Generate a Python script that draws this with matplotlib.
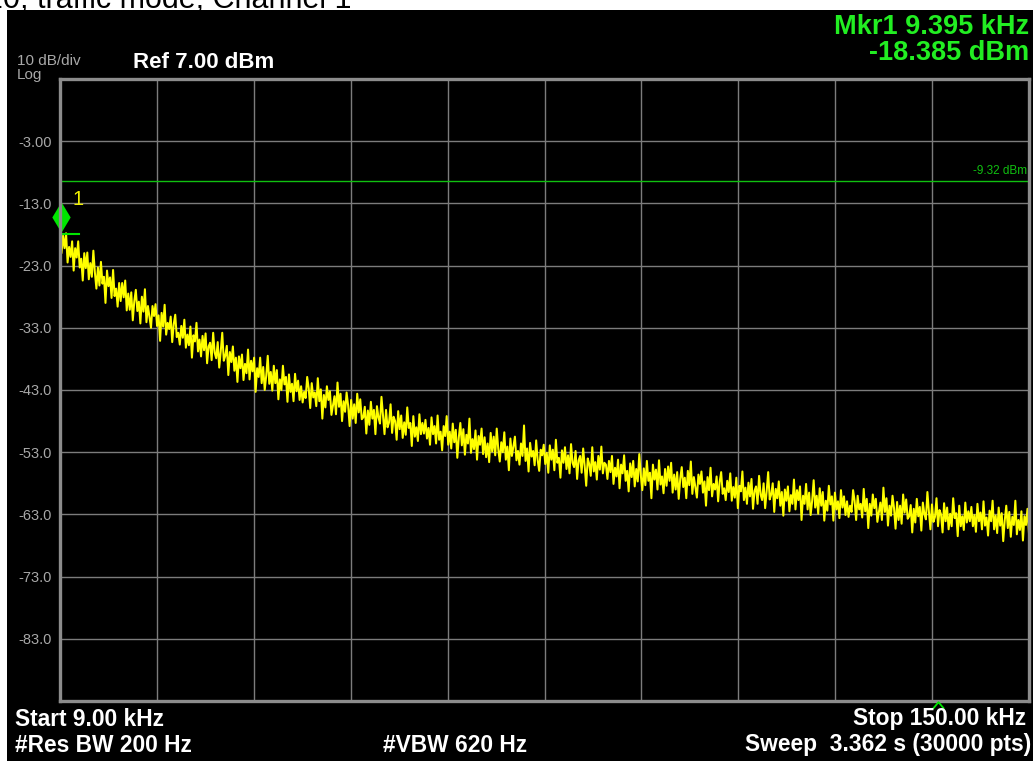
import numpy as np
import matplotlib
matplotlib.use("Agg")
import matplotlib.pyplot as plt
from matplotlib.patches import Rectangle
from matplotlib.path import Path
from matplotlib.transforms import offset_copy

plt.rcParams['font.family'] = ['Liberation Sans', 'DejaVu Sans']

# ---------------- data ----------------
start_khz = 9.0
stop_khz = 150.0
ref_dbm = 7.0
db_per_div = 10.0
n_div = 10
threshold_dbm = -9.32
mkr_khz = 9.395
mkr_dbm = -18.385

ytick_labels = ["-3.00", "-13.0", "-23.0", "-33.0", "-43.0",
                "-53.0", "-63.0", "-73.0", "-83.0"]

# trace readings (dBm), 16 consecutive stretches of equal width from start to stop
seg01 = [-18.5, -21.0, -18.2, -20.2, -17.8, -22.5, -20.0, -21.6, -19.1, -23.8,
         -20.2, -21.7, -19.1, -23.3, -21.9, -25.4, -21.0, -23.4, -20.9, -25.2,
         -22.6, -24.8, -20.6, -24.1, -26.7, -23.3, -26.2, -22.4, -25.9, -24.8,
         -29.0, -23.8, -26.3, -24.9, -28.2, -23.7, -27.9, -26.7, -29.6, -25.8]
seg02 = [-28.7, -25.8, -28.1, -25.4, -30.2, -27.5, -30.1, -27.3, -31.8, -28.7,
         -26.9, -30.3, -28.8, -32.3, -28.0, -30.4, -26.8, -32.1, -29.5, -31.2,
         -33.0, -29.5, -31.1, -29.2, -32.7, -31.0, -35.1, -30.6, -32.8, -29.3,
         -34.1, -32.2, -33.2, -31.2, -35.3, -32.4, -30.9, -34.5, -33.8, -35.7]
seg03 = [-32.7, -34.6, -31.7, -36.2, -34.1, -35.8, -32.8, -37.8, -34.2, -35.2,
         -32.2, -36.8, -34.9, -37.6, -34.3, -36.6, -33.9, -38.7, -36.0, -35.4,
         -38.2, -33.8, -37.0, -37.9, -35.3, -39.4, -36.8, -33.8, -38.3, -37.5,
         -35.9, -40.6, -36.9, -38.5, -36.0, -39.9, -37.8, -41.7, -37.6, -39.5]
seg04 = [-37.3, -41.4, -38.8, -40.3, -36.5, -41.3, -38.3, -40.0, -37.8, -43.3,
         -39.5, -40.9, -37.8, -41.9, -39.3, -43.0, -40.7, -37.5, -42.0, -40.1,
         -43.1, -39.1, -41.9, -39.8, -44.5, -41.3, -43.0, -39.1, -42.1, -40.9,
         -44.9, -40.5, -43.3, -42.0, -44.8, -40.4, -43.2, -41.5, -44.6, -42.4]
seg05 = [-45.0, -43.3, -44.3, -40.9, -42.7, -45.9, -41.9, -44.2, -43.4, -45.6,
         -41.1, -44.8, -42.9, -47.6, -43.8, -45.8, -42.4, -44.6, -43.2, -47.0,
         -45.5, -44.0, -46.9, -41.8, -45.7, -43.6, -48.0, -44.8, -46.5, -43.4,
         -45.5, -48.8, -44.6, -47.6, -45.3, -48.3, -43.6, -46.6, -44.5, -47.7]
seg06 = [-47.4, -45.7, -50.0, -46.3, -48.6, -44.9, -47.6, -46.2, -50.1, -45.6,
         -47.4, -48.4, -44.1, -47.2, -50.1, -46.2, -49.0, -48.2, -45.3, -49.9,
         -47.3, -48.0, -51.0, -46.4, -49.3, -47.1, -50.7, -48.2, -50.2, -45.8,
         -49.1, -48.3, -52.0, -47.2, -50.5, -49.0, -51.2, -46.9, -50.1, -48.3]
seg07 = [-50.0, -47.8, -50.8, -49.1, -51.8, -47.4, -50.1, -48.8, -51.6, -47.1,
         -51.0, -49.7, -52.7, -48.8, -50.4, -47.2, -51.8, -49.7, -52.4, -48.4,
         -51.4, -49.4, -53.9, -50.6, -48.3, -51.9, -49.3, -53.4, -50.2, -51.6,
         -47.6, -53.1, -50.9, -52.5, -49.5, -54.2, -50.4, -51.8, -49.2, -53.3]
seg08 = [-50.6, -53.8, -51.6, -54.6, -49.9, -52.9, -50.5, -53.5, -49.2, -52.5,
         -54.5, -51.4, -53.0, -49.8, -54.2, -52.1, -55.9, -50.8, -53.6, -52.1,
         -50.5, -54.3, -52.8, -55.0, -51.6, -53.6, -48.7, -54.4, -52.4, -56.1,
         -51.5, -53.7, -52.8, -55.1, -51.1, -54.3, -56.0, -52.6, -53.5, -51.8]
seg09 = [-54.9, -53.1, -56.3, -51.9, -54.2, -52.6, -55.9, -51.0, -54.7, -53.9,
         -57.1, -52.7, -54.7, -52.2, -55.7, -53.5, -56.4, -51.7, -54.7, -55.4,
         -52.8, -57.3, -54.3, -53.6, -56.3, -52.4, -55.2, -58.4, -54.0, -54.9,
         -56.8, -52.2, -56.1, -54.6, -57.4, -53.6, -55.8, -52.1, -56.4, -54.7]
seg10 = [-55.0, -57.3, -54.4, -56.2, -53.6, -58.1, -55.5, -56.9, -54.2, -58.8,
         -55.0, -56.4, -53.5, -57.6, -56.0, -59.3, -54.8, -57.0, -54.4, -58.5,
         -55.7, -57.7, -53.3, -56.7, -59.1, -55.6, -58.3, -54.4, -57.6, -56.3,
         -60.4, -55.0, -57.4, -55.8, -59.0, -54.3, -58.2, -56.9, -59.6, -55.7]
seg11 = [-58.4, -55.3, -57.6, -54.7, -59.5, -56.6, -59.0, -56.2, -60.5, -57.3,
         -55.4, -58.6, -57.1, -60.4, -56.0, -58.3, -54.5, -59.7, -57.0, -58.6,
         -60.3, -56.6, -58.1, -56.1, -59.5, -57.7, -61.6, -57.0, -59.1, -55.5,
         -60.1, -58.1, -59.0, -56.9, -60.9, -57.8, -56.2, -59.7, -58.8, -60.7]
seg12 = [-57.6, -59.4, -56.4, -60.8, -58.6, -60.3, -57.1, -62.0, -58.4, -59.3,
         -56.1, -60.7, -58.7, -61.3, -57.9, -60.1, -57.3, -62.1, -59.2, -58.5,
         -61.3, -56.8, -59.8, -60.7, -58.0, -62.0, -59.3, -56.2, -60.6, -59.8,
         -58.0, -62.6, -58.9, -60.4, -57.7, -61.6, -59.4, -63.2, -59.0, -60.8]
seg13 = [-58.5, -62.5, -59.9, -61.3, -57.4, -62.2, -59.1, -60.7, -58.5, -63.9,
         -60.0, -61.3, -58.1, -62.2, -59.5, -63.1, -60.8, -57.5, -61.9, -60.0,
         -62.9, -58.8, -61.6, -59.4, -64.0, -60.8, -62.4, -58.4, -61.4, -60.1,
         -64.0, -59.5, -62.2, -60.9, -63.6, -59.1, -61.9, -60.1, -63.1, -60.9]
seg14 = [-63.4, -61.6, -62.6, -59.1, -60.8, -63.9, -60.0, -62.2, -61.3, -63.5,
         -58.9, -62.5, -60.5, -65.2, -61.3, -63.2, -59.8, -62.0, -60.5, -64.2,
         -62.7, -61.1, -63.9, -58.7, -62.6, -60.4, -64.8, -61.6, -63.2, -60.0,
         -62.0, -65.3, -61.0, -63.9, -61.6, -64.5, -59.8, -62.7, -60.6, -63.7]
seg15 = [-63.3, -61.5, -65.9, -62.1, -64.3, -60.5, -63.3, -61.8, -65.6, -61.1,
         -62.9, -63.8, -59.4, -62.6, -65.4, -61.4, -64.2, -63.4, -60.4, -64.9,
         -62.3, -63.0, -65.9, -61.2, -64.1, -61.9, -65.4, -62.9, -64.9, -60.4,
         -63.6, -62.8, -66.5, -61.6, -64.9, -63.3, -65.5, -61.1, -64.3, -62.5]
seg16 = [-64.1, -61.8, -64.9, -63.1, -65.8, -61.3, -64.1, -62.7, -65.4, -60.9,
         -64.8, -63.5, -66.4, -62.4, -64.1, -60.8, -65.4, -63.2, -66.0, -61.9,
         -64.8, -62.8, -67.3, -64.0, -61.6, -65.2, -62.6, -66.6, -63.4, -64.7,
         -60.8, -66.2, -63.9, -65.5, -62.5, -67.2, -63.3, -64.7, -62.1, -66.1]

trace_dbm = (seg01 + seg02 + seg03 + seg04 + seg05 + seg06 + seg07 + seg08 +
             seg09 + seg10 + seg11 + seg12 + seg13 + seg14 + seg15 + seg16)

# ---------------- figure ----------------
W, H = 1035, 761
fig = plt.figure(figsize=(W / 100, H / 100), dpi=100, facecolor='white')

def fx(px):
    return px / W

def fy(py):
    return 1 - py / H

# clipped title text at top
fig.text(fx(351), fy(7.5), "20, traffic mode, Channel 1", ha='right', va='baseline',
         fontsize=22, color='black', zorder=0)

# black instrument screen
fig.patches.append(Rectangle((fx(7), 0), fx(1033) - fx(7), fy(9.5), transform=fig.transFigure,
                             facecolor='black', edgecolor='none', zorder=1))

ax = fig.add_axes([fx(60), fy(701), fx(1029) - fx(60), fy(79) - fy(701)])
ax.set_facecolor('black')
ax.set_zorder(2)

bottom_dbm = ref_dbm - db_per_div * n_div
ax.set_xlim(start_khz, stop_khz)
ax.set_ylim(bottom_dbm, ref_dbm)

grid_color = '#7c7c7c'
ax.set_xticks(np.linspace(start_khz, stop_khz, n_div + 1)[1:-1])
ax.set_xticklabels([])
ax.set_yticks(ref_dbm - db_per_div * np.arange(1, n_div))
ax.set_yticklabels(ytick_labels)
ax.tick_params(axis='both', length=0)
ax.tick_params(axis='y', pad=6, labelsize=10.5, labelcolor='#a8a8a8')
ax.grid(True, color=grid_color, linewidth=1.0)
ax.set_axisbelow(True)
for sp in ax.spines.values():
    sp.set_color('#8c8c8c')
    sp.set_linewidth(2.4)
    sp.set_zorder(5)

# threshold display line
ax.axhline(threshold_dbm, color='#10c010', linewidth=1.0, zorder=3)
ax.text(0.998, threshold_dbm + 0.6, f"{threshold_dbm:.2f} dBm", transform=ax.get_yaxis_transform(),
        ha='right', va='bottom', fontsize=8.5, color='#10c010', zorder=4)

# trace
yellow = '#ffff00'
freqs = np.linspace(start_khz, stop_khz, len(trace_dbm))
ax.plot(freqs, trace_dbm, color=yellow, linewidth=1.45, zorder=3)

# marker 1
diamond = Path([(0, 1), (0.6, 0), (0, -1), (-0.6, 0), (0, 1)],
               [Path.MOVETO, Path.LINETO, Path.LINETO, Path.LINETO, Path.CLOSEPOLY])
mk_tr = offset_copy(ax.transData, fig=fig, x=-1.5, y=14.5, units='points')
ax.plot([mkr_khz], [mkr_dbm], marker=diamond, markersize=22, color='#00e600',
        markeredgewidth=0, linestyle='none', transform=mk_tr, clip_on=False, zorder=4)
span = stop_khz - start_khz
ax.plot([mkr_khz, mkr_khz + span * 0.017], [mkr_dbm + 0.4, mkr_dbm + 0.4], color='#00e600',
        linewidth=1.5, zorder=4)
ax.annotate("1", xy=(mkr_khz, mkr_dbm), xytext=(7, 20), textcoords='offset points',
            ha='left', va='bottom', fontsize=14.5, color='#f0f000', zorder=4)

# small green caret under the bottom border
caret = Path([(-1, -0.6), (0, 0.6), (1, -0.6)], [Path.MOVETO, Path.LINETO, Path.LINETO])
ax.plot([0.906], [-0.006], marker=caret, markersize=8, markerfacecolor='none',
        markeredgecolor='#00e600', markeredgewidth=1.3, linestyle='none',
        transform=ax.transAxes, clip_on=False, zorder=6)

# screen annotations
gray = '#a8a8a8'
fig.text(fx(17), fy(61), "10 dB/div", ha='left', va='center', fontsize=11, color=gray, zorder=3)
fig.text(fx(17), fy(75), "Log", ha='left', va='center', fontsize=11, color=gray, zorder=3)
fig.text(fx(133), fy(63), "Ref 7.00 dBm", ha='left', va='center', fontsize=16,
         fontweight='bold', color='white', zorder=3)

green = '#22ee22'
fig.text(fx(1029), fy(27), f"Mkr1 {mkr_khz:.3f} kHz", ha='right', va='center', fontsize=19.5,
         fontweight='bold', color=green, zorder=3)
fig.text(fx(1029), fy(53.5), f"{mkr_dbm:.3f} dBm", ha='right', va='center', fontsize=19.5,
         fontweight='bold', color=green, zorder=3)

fs = 16.4
fig.text(fx(15), fy(719), "Start 9.00 kHz", ha='left', va='center', fontsize=fs,
         fontweight='bold', color='white', zorder=3)
fig.text(fx(15), fy(745), "#Res BW 200 Hz", ha='left', va='center', fontsize=fs,
         fontweight='bold', color='white', zorder=3)
fig.text(fx(383), fy(745), "#VBW 620 Hz", ha='left', va='center', fontsize=fs,
         fontweight='bold', color='white', zorder=3)
fig.text(fx(1026), fy(719), "Stop 150.00 kHz", ha='right', va='center', fontsize=fs,
         fontweight='bold', color='white', zorder=3)
fig.text(fx(1031), fy(745), "Sweep  3.362 s (30000 pts)", ha='right', va='center', fontsize=fs,
         fontweight='bold', color='white', zorder=3)

fig.savefig("out.png", dpi=100, facecolor='white')
